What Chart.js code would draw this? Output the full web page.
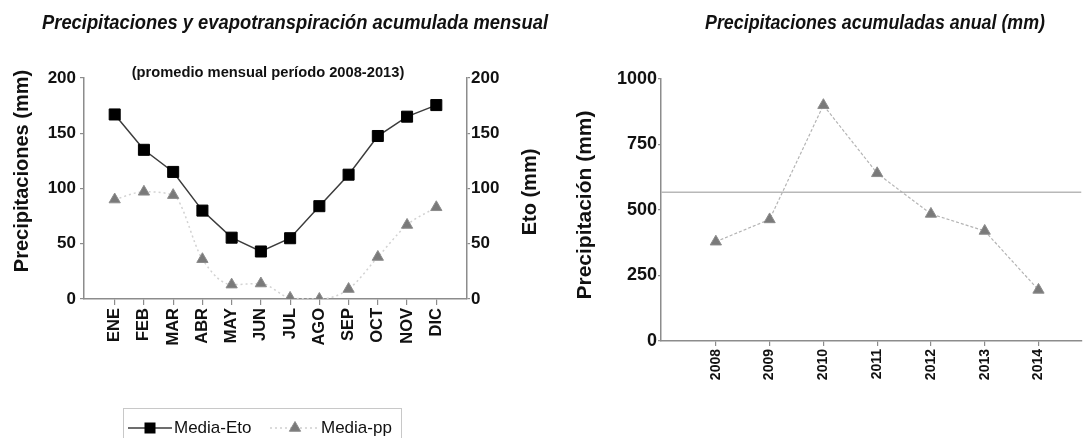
<!DOCTYPE html>
<html><head><meta charset="utf-8">
<script src="https://cdn.jsdelivr.net/npm/chart.js@4.4.0/dist/chart.umd.min.js"></script>
<style>
html,body{margin:0;padding:0;background:#fff;overflow:hidden}
#wrap{position:relative;width:1089px;height:438px;background:#fff}
#c1{position:absolute;left:0;top:0;width:555px;height:438px}
#c2{position:absolute;left:555px;top:0;width:534px;height:438px}
</style></head><body>
<div id="wrap">
<canvas id="c1" width="555" height="438"></canvas>
<canvas id="c2" width="534" height="438"></canvas>
</div>
<script>
// ---- data ----
const months = ['ENE','FEB','MAR','ABR','MAY','JUN','JUL','AGO','SEP','OCT','NOV','DIC'];
const etoMensual = [167, 135, 115, 80, 55.5, 43, 55, 84, 112.5, 147.5, 165, 175.5];
const ppMensual = [90, 97, 94, 36, 13, 14, 1, 0, 9, 38, 67, 83];
const yTicksMensual = [0, 50, 100, 150, 200];
const years = [2008, 2009, 2010, 2011, 2012, 2013, 2014];
const ppAnual = [379, 464, 900, 640, 485, 420, 195];
const ppReferencia = 568;
const yTicksAnual = [0, 250, 500, 750, 1000];

// ---- styles ----
const SANS = '"Liberation Sans", Arial, sans-serif';
const axisColor = '#8c8c8c';
const bold = (size, family = SANS) => ({ family, size, weight: 'bold' });

// draw text squeezed horizontally to a target width (condensed look)
function fitText(ctx, text, cx, cy, targetW) {
  const w = ctx.measureText(text).width;
  ctx.save();
  ctx.translate(cx, cy);
  ctx.scale(targetW / w, 1);
  ctx.fillText(text, 0, 0);
  ctx.restore();
}
function vText(ctx, text, cx, cy) {
  ctx.save();
  ctx.translate(cx, cy);
  ctx.rotate(-Math.PI / 2);
  ctx.fillText(text, 0, 0);
  ctx.restore();
}
function textPlugin(items) {
  return {
    id: 'extraText',
    afterDraw(chart) {
      const ctx = chart.ctx;
      ctx.save();
      items(ctx, chart);
      ctx.restore();
    }
  };
}

// ---------- left chart ----------
new Chart(document.getElementById('c1'), {
  type: 'line',
  data: {
    datasets: [
      {
        label: 'Media-Eto',
        data: etoMensual.map((v, i) => ({ x: i, y: v })),
        yAxisID: 'yR',
        borderColor: '#3c3c3c', borderWidth: 1.5,
        pointStyle: 'rect', pointRadius: 7.8,
        pointBackgroundColor: '#000', pointBorderColor: '#000', pointBorderWidth: 1,
        tension: 0
      },
      {
        label: 'Media-pp',
        data: ppMensual.map((v, i) => ({ x: i, y: v })),
        yAxisID: 'y',
        borderColor: '#d2d2d2', borderWidth: 1.5, borderDash: [2, 3],
        pointStyle: 'triangle', pointRadius: 6.5,
        pointBackgroundColor: '#7a7a7a', pointBorderColor: '#8c8c8c', pointBorderWidth: 1,
        cubicInterpolationMode: 'monotone'
      }
    ]
  },
  options: {
    responsive: false, animation: false, devicePixelRatio: 1,
    layout: { padding: { top: 78, left: 0, right: 0, bottom: 79 } },
    plugins: { legend: { display: false }, tooltip: { enabled: false }, title: { display: false } },
    scales: {
      x: {
        type: 'linear', min: -1.05, max: 12.05,
        afterBuildTicks: s => { s.ticks = months.map((m, i) => ({ value: i })); },
        afterFit: s => { s.height = 60; },
        grid: { drawOnChartArea: false, drawTicks: true, tickLength: 6, color: axisColor, lineWidth: 1.2 },
        border: { display: true, color: axisColor, width: 1.5 },
        ticks: { autoSkip: false, maxRotation: 90, minRotation: 90, padding: 3, color: '#111', font: bold(16.5),
                 callback: v => months[v] ?? '' }
      },
      y: {
        position: 'left', min: 0, max: 200,
        afterBuildTicks: s => { s.ticks = yTicksMensual.map(v => ({ value: v })); },
        afterFit: s => { s.width = 84; },
        grid: { drawOnChartArea: false, drawTicks: true, tickLength: 4, color: axisColor, lineWidth: 1.2 },
        border: { display: true, color: axisColor, width: 1.5 },
        ticks: { padding: 4, color: '#111', font: bold(17) }
      },
      yR: {
        position: 'right', min: 0, max: 200,
        afterBuildTicks: s => { s.ticks = yTicksMensual.map(v => ({ value: v })); },
        afterFit: s => { s.width = 88; },
        grid: { drawOnChartArea: false, drawTicks: true, tickLength: 3, color: axisColor, lineWidth: 1.2 },
        border: { display: true, color: axisColor, width: 1.5 },
        ticks: { padding: 1, color: '#111', font: bold(17) }
      }
    }
  },
  plugins: [textPlugin((ctx, chart) => {
    ctx.fillStyle = '#111';
    ctx.textBaseline = 'middle';
    ctx.textAlign = 'center';
    ctx.font = 'italic bold 21px ' + SANS;
    fitText(ctx, 'Precipitaciones y evapotranspiración acumulada mensual', 295, 23, 506);
    ctx.font = 'bold 14.7px ' + SANS;
    ctx.fillText('(promedio mensual período 2008-2013)', 268, 73);
    ctx.font = 'bold 20px ' + SANS;
    vText(ctx, 'Precipitaciones (mm)', 22, 171);
    vText(ctx, 'Eto (mm)', 530, 192);
    // legend
    ctx.strokeStyle = '#c8c8c8'; ctx.lineWidth = 1;
    ctx.strokeRect(123.5, 408.5, 278, 40);
    const ly = 428;
    const ds = chart.data.datasets;
    ctx.strokeStyle = ds[0].borderColor; ctx.lineWidth = 1.5; ctx.setLineDash([]);
    ctx.beginPath(); ctx.moveTo(128, ly); ctx.lineTo(172, ly); ctx.stroke();
    ctx.fillStyle = '#000';
    ctx.beginPath(); ctx.rect(150 - 5.5, ly - 5.5, 11, 11); ctx.fill();
    ctx.strokeStyle = '#cfcfcf'; ctx.setLineDash([2, 3]);
    ctx.beginPath(); ctx.moveTo(270, ly); ctx.lineTo(317, ly); ctx.stroke();
    ctx.setLineDash([]);
    ctx.fillStyle = '#7a7a7a'; ctx.strokeStyle = '#8c8c8c'; ctx.lineWidth = 1;
    Chart.helpers.drawPoint(ctx, { pointStyle: 'triangle', radius: 6.5, borderWidth: 1 }, 295, ly);
    ctx.fillStyle = '#111';
    ctx.textAlign = 'left';
    ctx.font = '17px ' + SANS;
    ctx.fillText(ds[0].label, 174, ly);
    ctx.fillText(ds[1].label, 321, ly);
  })]
});

// ---------- right chart ----------
new Chart(document.getElementById('c2'), {
  type: 'line',
  data: {
    datasets: [
      {
        label: 'Precipitación',
        data: ppAnual.map((v, i) => ({ x: years[i], y: v })),
        borderColor: '#b4b4b4', borderWidth: 1.2, borderDash: [3, 2],
        pointStyle: 'triangle', pointRadius: 6.5,
        pointBackgroundColor: '#7a7a7a', pointBorderColor: '#8c8c8c', pointBorderWidth: 1,
        tension: 0
      },
      {
        label: 'Referencia',
        data: [{ x: 2006.98, y: ppReferencia }, { x: 2014.8, y: ppReferencia }],
        borderColor: '#b8b8b8', borderWidth: 1.5, pointRadius: 0, tension: 0
      }
    ]
  },
  options: {
    responsive: false, animation: false, devicePixelRatio: 1,
    layout: { padding: { top: 79, left: 0, right: 0, bottom: 37 } },
    plugins: { legend: { display: false }, tooltip: { enabled: false }, title: { display: false } },
    scales: {
      x: {
        type: 'linear', min: 2006.98, max: 2014.8,
        afterBuildTicks: s => { s.ticks = years.map(v => ({ value: v })); },
        afterFit: s => { s.height = 60; },
        grid: { drawOnChartArea: false, drawTicks: true, tickLength: 5, color: axisColor, lineWidth: 1.2 },
        border: { display: true, color: axisColor, width: 1.5 },
        ticks: { autoSkip: false, maxRotation: 90, minRotation: 90, padding: 3, color: '#111', font: bold(14),
                 callback: v => String(v) }
      },
      y: {
        position: 'left', min: 0, max: 1000,
        afterBuildTicks: s => { s.ticks = yTicksAnual.map(v => ({ value: v })); },
        afterFit: s => { s.width = 106; },
        grid: { drawOnChartArea: false, drawTicks: true, tickLength: 3, color: axisColor, lineWidth: 1.2 },
        border: { display: true, color: axisColor, width: 1.5 },
        ticks: { padding: 1, color: '#111', font: bold(18), callback: v => String(v) }
      }
    }
  },
  plugins: [textPlugin((ctx, chart) => {
    ctx.fillStyle = '#111';
    ctx.textBaseline = 'middle';
    ctx.textAlign = 'center';
    ctx.font = 'italic bold 21px ' + SANS;
    fitText(ctx, 'Precipitaciones acumuladas anual (mm)', 320, 23, 340);
    ctx.font = 'bold 21px ' + SANS;
    vText(ctx, 'Precipitación (mm)', 30, 205);
  })]
});
</script>
</body></html>
